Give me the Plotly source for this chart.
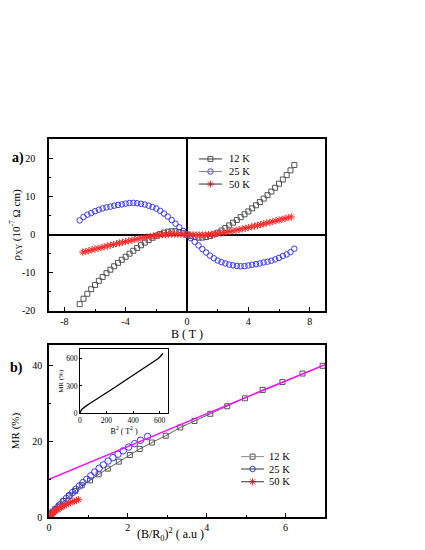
import plotly.graph_objects as go

# ---- panel a) : Hall resistivity vs field ----
b_top = [-7.0, -6.75, -6.5, -6.25, -6.0, -5.75, -5.5, -5.25, -5.0, -4.75, -4.5, -4.25,
         -4.0, -3.75, -3.5, -3.25, -3.0, -2.75, -2.5, -2.25, -2.0, -1.75, -1.5, -1.25,
         -1.0, -0.75, -0.5, -0.25, 0.0, 0.25, 0.5, 0.75, 1.0, 1.25, 1.5, 1.75, 2.0,
         2.25, 2.5, 2.75, 3.0, 3.25, 3.5, 3.75, 4.0, 4.25, 4.5, 4.75, 5.0, 5.25, 5.5,
         5.75, 6.0, 6.25, 6.5, 6.75, 7.0]
rho_12k = [-18.2, -16.8, -15.5, -14.3, -13.2, -12.1, -11.1, -10.1, -9.2, -8.3, -7.4, -6.6,
           -5.8, -5.0, -4.25, -3.5, -2.8, -2.1, -1.45, -0.85, -0.3, 0.15, 0.5, 0.75,
           0.85, 0.85, 0.65, 0.35, 0.0, -0.35, -0.65, -0.8, -0.8, -0.65, -0.35, 0.05, 0.5,
           1.05, 1.7, 2.4, 3.1, 3.8, 4.55, 5.3, 6.05, 6.85, 7.65, 8.5, 9.4, 10.3, 11.25,
           12.25, 13.3, 14.4, 15.55, 16.8, 18.2]
rho_25k = [3.7, 4.6, 5.2, 5.6, 6.1, 6.5, 6.85, 7.1, 7.3, 7.55, 7.75, 7.9,
           8.1, 8.25, 8.3, 8.2, 8.05, 7.85, 7.55, 7.2, 6.8, 6.2, 5.5, 4.7,
           3.8, 2.85, 1.9, 0.95, 0.0, -0.95, -1.9, -2.85, -3.8, -4.7, -5.5, -6.2, -6.8,
           -7.2, -7.55, -7.85, -8.05, -8.2, -8.3, -8.25, -8.1, -7.9, -7.75, -7.55, -7.3, -7.1, -6.85,
           -6.5, -6.1, -5.6, -5.2, -4.6, -3.7]
b_top_50 = [-6.8, -6.6, -6.4, -6.2, -6.0, -5.8, -5.6, -5.4, -5.2, -5.0, -4.8, -4.6, -4.4,
            -4.2, -4.0, -3.8, -3.6, -3.4, -3.2, -3.0, -2.8, -2.6, -2.4, -2.2, -2.0, -1.8,
            -1.6, -1.4, -1.2, -1.0, -0.8, -0.6, -0.4, -0.2, 0.0, 0.2, 0.4, 0.6, 0.8, 1.0,
            1.2, 1.4, 1.6, 1.8, 2.0, 2.2, 2.4, 2.6, 2.8, 3.0, 3.2, 3.4, 3.6, 3.8, 4.0, 4.2,
            4.4, 4.6, 4.8, 5.0, 5.2, 5.4, 5.6, 5.8, 6.0, 6.2, 6.4, 6.6, 6.8]
rho_50k = [-4.6, -4.42, -4.22, -4.0, -3.8, -3.6, -3.41, -3.2, -3.0, -2.8, -2.6, -2.4, -2.2,
           -2.02, -1.83, -1.65, -1.47, -1.29, -1.12, -0.96, -0.8, -0.65, -0.51, -0.38, -0.26, -0.15,
           -0.05, 0.03, 0.08, 0.11, 0.12, 0.1, 0.08, 0.04, 0.0, -0.04, -0.08, -0.1, -0.11, -0.1,
           -0.07, -0.02, 0.05, 0.14, 0.25, 0.37, 0.5, 0.64, 0.79, 0.95, 1.11, 1.28, 1.46, 1.64, 1.83, 2.02,
           2.21, 2.41, 2.61, 2.81, 3.01, 3.21, 3.41, 3.61, 3.81, 4.01, 4.21, 4.41, 4.6]
a_xticks = [-8, -4, 0, 4, 8]
a_yticks = [-20, -10, 0, 10, 20]

# ---- panel b) : MR vs (B/R0)^2 ----
x_12k = [0.0, 0.01, 0.04, 0.09, 0.16, 0.25, 0.37, 0.5, 0.66, 0.83, 1.04, 1.26, 1.49, 1.77,
         2.05, 2.30, 2.61, 2.96, 3.33, 3.69, 4.09, 4.52, 4.97, 5.42, 5.92, 6.43, 6.94]
mr_12k = [0.0, 0.3, 0.8, 1.4, 2.1, 3.0, 4.2, 5.5, 6.9, 8.4, 9.7, 11.3, 12.8, 14.65,
          16.4, 18.0, 19.7, 21.5, 23.7, 25.4, 27.3, 29.3, 31.4, 33.6, 35.7, 37.95, 40.0]
x_25k = [0.0, 0.03, 0.08, 0.15, 0.22, 0.29, 0.36, 0.44, 0.52, 0.6, 0.68, 0.77, 0.86,
         0.96, 1.06, 1.16, 1.27, 1.38, 1.5, 1.62, 1.75, 1.88, 2.02, 2.17, 2.32, 2.5]
mr_25k = [0.3, 0.5, 1.0, 1.7, 2.5, 3.3, 4.1, 4.9, 5.7, 6.5, 7.3, 8.2, 9.1,
          10.0, 10.9, 11.9, 12.9, 13.8, 14.8, 15.7, 16.6, 17.5, 18.5, 19.4, 20.3, 21.3]
x_50k = [0.0, 0.003, 0.01, 0.02, 0.035, 0.05, 0.07, 0.09, 0.115, 0.14, 0.17, 0.2,
         0.23, 0.27, 0.31, 0.35, 0.39, 0.44, 0.49, 0.54, 0.59, 0.64, 0.7, 0.75]
mr_50k = [0.0, 0.05, 0.15, 0.3, 0.45, 0.6, 0.8, 1.0, 1.2, 1.45, 1.7, 1.95,
          2.1, 2.35, 2.6, 2.8, 3.0, 3.3, 3.55, 3.8, 4.0, 4.2, 4.45, 4.6]
fit_x = [0.0, 7.0]
fit_y = [10.0, 40.3]

# inset: MR vs B^2
inset_b2 = [0, 3, 8, 15, 25, 35, 50, 75, 100, 150, 200, 250, 300, 350, 400, 450,
            500, 540, 560, 575, 590, 605, 615, 625]
inset_mr = [0, 18, 32, 45, 58, 68, 85, 108, 130, 177, 225, 272, 320, 368, 415, 463,
            510, 548, 570, 580, 598, 620, 640, 655]

labels = ["12 K", "25 K", "50 K"]
GREY = "#555555"
BLUE = "#3a3aff"
RED = "#ff2a2a"
FONT = "Liberation Serif"

# legend key placement (fractions of each panel's plot area)
leg_a = dict(x0=0.543, x1=0.627, xt=0.645, rows=[0.884, 0.811, 0.738],
             line_cols=["#333333", "#888888", "#333333"])
leg_b = dict(x0=0.696, x1=0.779, xt=0.79, rows=[0.351, 0.279, 0.205],
             line_cols=["#888888", "#333333", "#333333"])

fig = go.Figure()

sq = dict(symbol="square-open", size=5, color=GREY, line=dict(width=1, color=GREY))
ci = dict(symbol="circle-open", size=5.5, color=BLUE, line=dict(width=1, color=BLUE))
st = dict(symbol="asterisk-open", size=6, color=RED, line=dict(width=1, color=RED))
markers = [sq, ci, st]

# panel a data
fig.add_trace(go.Scatter(x=b_top, y=rho_12k, mode="markers", marker=sq, xaxis="x", yaxis="y"))
fig.add_trace(go.Scatter(x=b_top, y=rho_25k, mode="markers", marker=ci, xaxis="x", yaxis="y"))
fig.add_trace(go.Scatter(x=b_top_50, y=rho_50k, mode="markers", marker=st, xaxis="x", yaxis="y"))

# panel b data
fig.add_trace(go.Scatter(x=x_12k, y=mr_12k, mode="lines+markers", marker=sq,
                         line=dict(color="#333333", width=0.8), xaxis="x2", yaxis="y2"))
fig.add_trace(go.Scatter(x=x_25k, y=mr_25k, mode="markers", marker=dict(ci, size=6.5),
                         xaxis="x2", yaxis="y2"))
fig.add_trace(go.Scatter(x=x_50k, y=mr_50k, mode="markers", marker=st, xaxis="x2", yaxis="y2"))
fig.add_trace(go.Scatter(x=fit_x, y=fit_y, mode="lines", line=dict(color="#ff10ff", width=1.5),
                         xaxis="x2", yaxis="y2"))

# inset
fig.add_trace(go.Scatter(x=inset_b2, y=inset_mr, mode="lines", line=dict(color="black", width=1.3),
                         xaxis="x3", yaxis="y3"))

# hand-made legends on overlay axes (0..1 over each panel)
shapes = []
annotations = []
for leg, xa, ya in [(leg_a, "x4", "y4"), (leg_b, "x5", "y5")]:
    for lab, mk, yy, lc in zip(labels, markers, leg["rows"], leg["line_cols"]):
        shapes.append(dict(type="line", xref=xa, yref=ya, x0=leg["x0"], x1=leg["x1"],
                           y0=yy, y1=yy, line=dict(color=lc, width=1)))
        fig.add_trace(go.Scatter(x=[(leg["x0"] + leg["x1"]) / 2], y=[yy], mode="markers",
                                 marker=mk, xaxis=xa, yaxis=ya))
        annotations.append(dict(text=lab, x=leg["xt"], y=yy, xref=xa, yref=ya,
                                xanchor="left", yanchor="middle", showarrow=False,
                                font=dict(size=10.5)))

annotations += [
    dict(text="<b>a)</b>", x=-0.112, y=0.95, xref="paper", yref="paper", showarrow=False,
         xanchor="center", yanchor="middle", font=dict(size=14)),
    dict(text="<b>b)</b>", x=-0.116, y=0.395, xref="paper", yref="paper", showarrow=False,
         xanchor="center", yanchor="middle", font=dict(size=14)),
    # x-axis titles placed as in the original figure
    dict(text="B ( T )", x=0.5, y=0.484, xref="paper", yref="paper", showarrow=False,
         xanchor="center", yanchor="middle", font=dict(size=12)),
    dict(text="(B/R<sub>0</sub>)<sup>2</sup> ( a.u )", x=0.44, y=-0.045, xref="paper",
         yref="paper", showarrow=False, xanchor="center", yanchor="middle", font=dict(size=12)),
]

ax = dict(showline=True, linecolor="black", linewidth=1.5, mirror=True, showgrid=False,
          ticks="inside", ticklen=4, tickwidth=1.2, tickcolor="black", automargin=False,
          tickfont=dict(family=FONT, size=10, color="black"))
hidden = dict(visible=False, range=[0, 1], showgrid=False, zeroline=False, fixedrange=True)

# the page adds an 8 px body margin, so the margins are shifted to compensate
fig.update_layout(
    width=425, height=550,
    margin=dict(l=41, r=108, t=131, b=41, autoexpand=False),
    paper_bgcolor="white", plot_bgcolor="rgba(0,0,0,0)",
    showlegend=False,
    font=dict(family=FONT, size=10, color="black"),
    xaxis=dict(ax, domain=[0, 1], anchor="y", range=[-9, 9],
               tickvals=a_xticks, ticktext=[str(v) for v in a_xticks],
               minor=dict(ticks="inside", ticklen=2.5, dtick=2, tickcolor="black"),
               zeroline=True, zerolinecolor="black", zerolinewidth=1.5, ticklabelstandoff=0),
    yaxis=dict(ax, domain=[0.545, 1], anchor="x", range=[-20, 25],
               tickvals=a_yticks, ticktext=[str(v) for v in a_yticks],
               minor=dict(ticks="inside", ticklen=2.5, dtick=5, tickcolor="black"),
               zeroline=True, zerolinecolor="black", zerolinewidth=1.5, ticklabelstandoff=10,
               title=dict(text="ρ<sub>XY</sub> (10<sup>-7</sup> Ω cm)", font=dict(size=11), standoff=10)),
    xaxis2=dict(ax, domain=[0, 1], anchor="y2", range=[0, 7], dtick=2,
                minor=dict(ticks="inside", ticklen=2.5, dtick=1, tickcolor="black"),
                zeroline=False, ticklabelstandoff=0),
    yaxis2=dict(ax, domain=[0, 0.455], anchor="x2", range=[0, 45.5], dtick=20,
                minor=dict(ticks="inside", ticklen=2.5, dtick=10, tickcolor="black"),
                zeroline=False, ticklabelstandoff=3,
                title=dict(text="MR (%)", font=dict(size=11), standoff=10)),
    xaxis3=dict(showline=True, linecolor="black", linewidth=1, mirror=True, showgrid=False,
                zeroline=False, domain=[0.112, 0.432], anchor="y3", range=[0, 665], automargin=False,
                tickvals=[0, 200, 400, 600], ticks="inside", ticklen=2, tickcolor="black",
                tickfont=dict(size=7.5), title=dict(text="B<sup>2</sup> ( T<sup>2</sup> )",
                                                     font=dict(size=8), standoff=0)),
    yaxis3=dict(showline=True, linecolor="black", linewidth=1, mirror=True, showgrid=False,
                zeroline=False, domain=[0.274, 0.444], anchor="x3", range=[0, 700], automargin=False,
                tickvals=[0, 300, 600], ticks="inside", ticklen=2, tickcolor="black",
                tickfont=dict(size=7.5), title=dict(text="MR (%)", font=dict(size=7), standoff=1)),
    xaxis4=dict(hidden, domain=[0, 1], anchor="y4"),
    yaxis4=dict(hidden, domain=[0.545, 1], anchor="x4"),
    xaxis5=dict(hidden, domain=[0, 1], anchor="y5"),
    yaxis5=dict(hidden, domain=[0, 0.455], anchor="x5"),
    shapes=shapes,
    annotations=annotations,
)

fig.write_html("out.html")
